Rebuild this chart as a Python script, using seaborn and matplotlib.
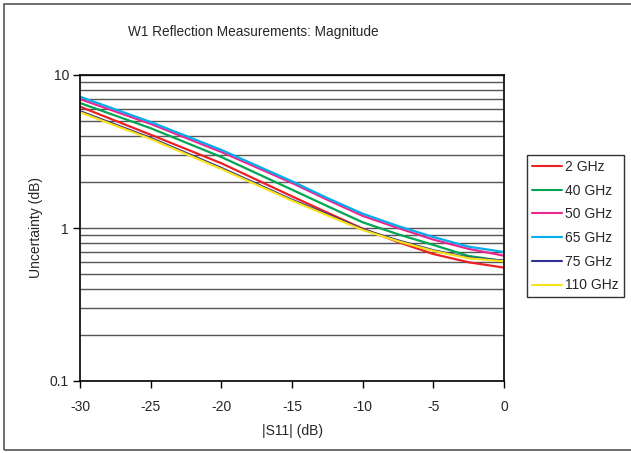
import numpy as np
import pandas as pd
import matplotlib
matplotlib.use("Agg")
import matplotlib.pyplot as plt
from matplotlib.patches import Rectangle
from matplotlib.ticker import FixedLocator, NullFormatter
import seaborn as sns

# |S11| (dB)
s11 = [-30, -25, -20, -15, -12.5, -10, -7.5, -5, -2.5, 0]

# Uncertainty (dB) per frequency
u_2ghz = [6.21, 4.07, 2.65, 1.61, 1.26, 0.99, 0.81, 0.676, 0.597, 0.551]
u_40ghz = [6.56, 4.49, 2.91, 1.78, 1.39, 1.09, 0.91, 0.775, 0.656, 0.608]
u_50ghz = [6.96, 4.79, 3.14, 1.97, 1.53, 1.20, 1.00, 0.84, 0.73, 0.659]
u_65ghz = [7.21, 4.93, 3.24, 2.02, 1.57, 1.24, 1.03, 0.873, 0.755, 0.697]
u_75ghz = [5.80, 3.88, 2.47, 1.53, 1.23, 0.98, 0.83, 0.715, 0.64, 0.612]
u_110ghz = [5.71, 3.82, 2.43, 1.51, 1.21, 0.97, 0.82, 0.708, 0.634, 0.606]

labels = ["2 GHz", "40 GHz", "50 GHz", "65 GHz", "75 GHz", "110 GHz"]
colors = ["#ED2024", "#00A651", "#EC268F", "#00AEEF", "#2E3192", "#F7E21B"]

series = [u_2ghz, u_40ghz, u_50ghz, u_65ghz, u_75ghz, u_110ghz]
df = pd.DataFrame({
    "s11": np.tile(s11, len(labels)),
    "unc": np.concatenate(series),
    "freq": np.repeat(labels, len(s11)),
})

sns.set_theme(style="white")
plt.rcParams["font.family"] = ["Liberation Sans", "DejaVu Sans"]

fig = plt.figure(figsize=(6.31, 4.53), dpi=100)
ax = fig.add_axes([80 / 631, 1 - 381 / 453, 424 / 631, 306 / 453])

sns.lineplot(data=df, x="s11", y="unc", hue="freq", hue_order=labels,
             palette=colors, linewidth=1.6, ax=ax, legend=True)

ax.set_yscale("log")
ax.set_ylim(0.1, 10)
ax.set_xlim(-30, 0)
ax.set_xticks([-30, -25, -20, -15, -10, -5, 0])
ax.set_xticklabels(["-30", "-25", "-20", "-15", "-10", "-5", "0"])
ax.set_yticks([0.1, 1, 10])
ax.set_yticklabels(["0.1", "1", "10"])
minor = [m * d for d in (0.1, 1) for m in range(2, 10)]
ax.yaxis.set_minor_locator(FixedLocator(minor))
ax.yaxis.set_minor_formatter(NullFormatter())
ax.tick_params(axis="both", which="major", direction="out", length=5,
               width=1, color="black", labelsize=10, pad=3, left=True, bottom=True)
ax.tick_params(axis="y", which="minor", length=0)
ax.tick_params(axis="x", pad=9)
ax.grid(True, axis="y", which="both", color="#555555", linewidth=1)
ax.grid(False, axis="x")
for sp in ax.spines.values():
    sp.set_color("black")
    sp.set_linewidth(1.2)

ax.set_xlabel("|S11| (dB)", fontsize=10, labelpad=7)
ax.set_ylabel("Uncertainty (dB)", fontsize=10, labelpad=5)

leg = ax.legend(loc="upper left", bbox_to_anchor=(527 / 631, 1 - 155 / 453),
                bbox_transform=fig.transFigure, frameon=True, fontsize=10,
                handlelength=2.2, handletextpad=0.2, labelspacing=0.7,
                borderpad=0.35, fancybox=False, borderaxespad=0)
leg.get_frame().set_edgecolor("black")
leg.get_frame().set_linewidth(1)
for line in leg.get_lines():
    line.set_linewidth(1.5)

fig.text(253 / 631, 1 - 32 / 453, "W1 Reflection Measurements: Magnitude",
         ha="center", va="center", fontsize=9.8)

fig.patches.append(Rectangle((4 / 631, 3 / 453), 1.2, 1 - 7 / 453,
                             transform=fig.transFigure, fill=False,
                             edgecolor="#555555", linewidth=1.2))

fig.savefig("out.png", dpi=100)
